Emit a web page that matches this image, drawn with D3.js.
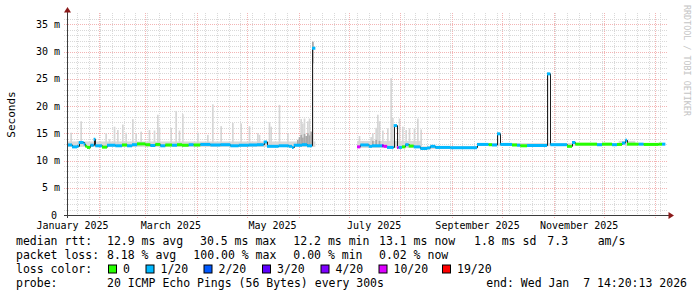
<!DOCTYPE html>
<html>
<head>
<meta charset="utf-8">
<script src="https://cdn.jsdelivr.net/npm/d3@7"></script>
<style>
  body { margin: 0; background: #fff; }
  text { font-family: "DejaVu Sans Mono", monospace; fill: #000; }
</style>
</head>
<body>
<svg id="chart" width="697" height="297"></svg>
<script>
// Median rtt as steps: each value holds from its date to the next one (null = no data)
var medDates = [
  "2025-01-13","2025-01-16","2025-01-19","2025-01-20","2025-01-23","2025-01-24","2025-01-25","2025-01-27",
  "2025-01-29","2025-01-30","2025-02-03","2025-02-06","2025-02-11","2025-02-15","2025-02-18","2025-02-21",
  "2025-02-24","2025-03-01","2025-03-04","2025-03-07","2025-03-10","2025-03-13","2025-03-17","2025-03-20",
  "2025-03-23","2025-03-27","2025-03-30","2025-04-03","2025-04-09","2025-04-15","2025-04-21","2025-04-26",
  "2025-05-02","2025-05-07","2025-05-11","2025-05-13","2025-05-20","2025-05-26","2025-05-28","2025-05-29",
  "2025-06-03","2025-06-06","2025-06-09","2025-06-11",
  "2025-07-06","2025-07-08","2025-07-13","2025-07-15","2025-07-21","2025-07-22","2025-07-24","2025-07-28",
  "2025-07-30","2025-07-31","2025-08-02","2025-08-04","2025-08-06","2025-08-09","2025-08-13","2025-08-17",
  "2025-08-19","2025-08-22","2025-08-31","2025-09-16","2025-09-23","2025-09-25","2025-09-28","2025-09-30",
  "2025-10-07","2025-10-10","2025-10-12","2025-10-16","2025-10-28","2025-10-30","2025-11-09","2025-11-12",
  "2025-11-14","2025-11-27","2025-11-30","2025-12-06","2025-12-09","2025-12-12","2025-12-14","2025-12-15",
  "2025-12-22","2025-12-25","2026-01-03","2026-01-05","2026-01-07"
];
var medValues = [
  12.85,12.5,12.6,13.3,13.0,12.6,12.4,12.8,
  13.9,12.7,12.45,12.8,12.7,12.85,12.7,12.9,
  13.05,12.9,12.75,12.95,12.7,12.85,12.8,12.9,
  12.8,12.9,12.85,12.95,12.85,12.9,12.7,12.8,
  12.85,12.9,13.4,12.6,12.7,12.6,12.4,12.8,
  12.9,12.7,30.6,null,
  12.5,12.85,12.6,12.7,12.7,12.6,12.4,16.4,
  12.4,12.4,12.5,12.9,12.65,12.5,12.2,12.3,
  12.6,12.4,12.35,12.95,12.9,12.85,14.9,12.95,
  12.85,12.8,12.7,12.75,25.9,12.9,12.6,13.3,
  13.0,12.9,13.0,12.9,12.95,13.2,13.7,13.0,
  13.0,12.95,13.0,13.0,null
];
// index into lossColors for each median step
var medLoss = [
  1,1,1,1,1,0,0,1,
  1,1,0,1,1,0,1,1,
  0,0,1,0,1,0,1,0,
  0,1,0,1,1,1,1,1,
  1,1,1,1,1,1,1,1,
  1,1,1,null,
  5,1,1,1,4,5,1,1,
  5,1,0,1,0,1,1,1,
  1,1,1,1,0,1,1,1,
  0,1,0,1,1,1,0,1,
  0,1,0,1,0,1,1,0,
  1,0,0,1,null
];

// base smoke band (steps)
var smokeDates = ["2025-01-13","2025-06-11","2025-07-06","2025-08-14","2025-09-16","2025-12-10","2025-12-20","2026-01-07"];
var smokeLows  = [12.5, null, 12.3, 12.1, 12.7, 12.8, 12.8, null];
var smokeHighs = [13.5, null, 13.6, 12.6, 13.2, 13.6, 13.2, null];

// single-sample smoke spikes
var spikeDates = [
  "2025-01-15","2025-01-21","2025-01-29","2025-02-05","2025-02-07","2025-02-10","2025-02-12","2025-02-15",
  "2025-02-17","2025-02-21","2025-02-23","2025-02-26","2025-03-03","2025-03-06","2025-03-08","2025-03-09",
  "2025-03-16","2025-03-19","2025-03-21","2025-03-23","2025-04-01","2025-04-07","2025-04-10","2025-04-15",
  "2025-04-22","2025-04-27","2025-05-02","2025-05-07","2025-05-08","2025-05-14","2025-05-15","2025-05-20",
  "2025-05-25","2025-06-02","2025-06-03","2025-06-04","2025-06-06","2025-06-07","2025-06-09",
  "2025-07-07","2025-07-09","2025-07-14","2025-07-15","2025-07-17","2025-07-18","2025-07-19","2025-07-21",
  "2025-07-24","2025-07-26","2025-07-27","2025-07-31","2025-08-02","2025-08-04","2025-08-06","2025-08-09",
  "2025-08-11","2025-08-13","2025-09-28","2025-10-28","2025-12-14"
];
var spikeTops = [
  15.1,17.2,14.1,15.0,13.9,16.2,15.6,16.6,
  15.1,17.6,15.0,15.3,15.6,15.5,18.4,16.0,
  16.0,19.1,15.5,18.5,15.1,14.7,20.3,16.3,
  16.9,16.8,16.3,15.0,14.7,17.0,16.2,20.2,
  15.0,17.6,16.8,17.7,17.2,17.7,31.8,
  14.5,13.5,14.3,15.0,16.0,18.4,17.2,15.5,
  15.9,25.1,17.8,17.7,16.2,15.6,15.9,15.9,
  17.7,15.7,15.1,26.1,14.0
];

// denser (darker) smoke
var denseDates = ["2025-05-31","2025-06-01","2025-06-02","2025-06-03","2025-06-04","2025-06-05","2025-06-06","2025-06-07","2025-06-08","2025-06-09","2025-07-15","2025-07-17","2025-07-19"];
var denseLows  = [12.9, 12.9, 13.0, 12.9, 13.0, 12.9, 12.8, 12.9, 12.9, 27.8, 12.8, 12.8, 12.8];
var denseTops  = [13.8, 14.3, 14.7, 14.2, 14.9, 14.5, 15.0, 14.6, 15.3, 31.8, 13.6, 13.8, 13.6];

var yTicks = [0, 5, 10, 15, 20, 25, 30, 35];
var monthLabelDates = ["2025-01-16","2025-03-16","2025-05-16","2025-07-16","2025-09-16","2025-11-16"];

var rttNames  = ["avg", "max", "min", "now"];
var rttValues = [12.9, 30.5, 12.2, 13.1];
var rttSd = 1.8;
var rttAms = 7.3;
var lossValues = [8.18, 100.00, 0.00, 0.02];
var lossLabels = ["0", "1/20", "2/20", "3/20", "4/20", "10/20", "19/20"];
var lossColors = ["#26ff00", "#00b8ff", "#0059ff", "#5e00ff", "#7e00ff", "#dd00ff", "#ff0000"];
var probeText = "20 ICMP Echo Pings (56 Bytes) every 300s";
var endText = "end: Wed Jan\u00a0\u00a07 14:20:13 2026";

// ---- layout ----
var svg = d3.select("#chart");
var parse = d3.utcParse("%Y-%m-%d");
var plotLeft = 67, plotRight = 667, plotTop = 15, plotBottom = 215;

var x = d3.scaleUtc()
          .domain([parse("2025-01-13"), parse("2026-01-08")])
          .range([plotLeft, plotRight]);
var y = d3.scaleLinear()
          .domain([0, 36.7])
          .range([plotBottom, plotTop]);

svg.append("rect").attr("width", 697).attr("height", 297).attr("fill", "#fff");

// grid
var grid = svg.append("g").attr("shape-rendering", "crispEdges");
var minorY = d3.range(1, 37).filter(function(v) { return v % 5 !== 0; });
var majorY = yTicks.filter(function(v) { return v > 0; });
var months = d3.utcMonth.range(x.domain()[0], x.domain()[1]);
var weeks = d3.utcSunday.range(x.domain()[0], x.domain()[1]);
var minorCol = "#d9d9d9", majorCol = "#f3b4b4";

grid.selectAll(".hminor").data(minorY).enter().append("line")
    .attr("x1", plotLeft - 3).attr("x2", plotRight + 1)
    .attr("y1", function(d) { return Math.round(y(d)) + 0.5; })
    .attr("y2", function(d) { return Math.round(y(d)) + 0.5; })
    .attr("stroke", minorCol).attr("stroke-dasharray", "1,1");
grid.selectAll(".vminor").data(weeks).enter().append("line")
    .attr("x1", function(d) { return Math.round(x(d)) + 0.5; })
    .attr("x2", function(d) { return Math.round(x(d)) + 0.5; })
    .attr("y1", plotTop - 2).attr("y2", plotBottom + 2)
    .attr("stroke", minorCol).attr("stroke-dasharray", "1,1");
grid.selectAll(".hmajor").data(majorY).enter().append("line")
    .attr("x1", plotLeft - 3).attr("x2", plotRight + 1)
    .attr("y1", function(d) { return Math.round(y(d)) + 0.5; })
    .attr("y2", function(d) { return Math.round(y(d)) + 0.5; })
    .attr("stroke", majorCol).attr("stroke-dasharray", "1,1");
grid.selectAll(".vmajor").data(months).enter().append("line")
    .attr("x1", function(d) { return Math.round(x(d)) + 0.5; })
    .attr("x2", function(d) { return Math.round(x(d)) + 0.5; })
    .attr("y1", plotTop - 2).attr("y2", plotBottom + 3)
    .attr("stroke", majorCol).attr("stroke-dasharray", "1,1");

// smoke
var oneDay = 864e5;
var smoke = smokeDates.map(function(d, i) { return {t: parse(d), lo: smokeLows[i], hi: smokeHighs[i]}; });
svg.append("g").selectAll("rect")
   .data(smoke.slice(0, -1).map(function(d, i) { return {a: d, b: smoke[i + 1]}; })
              .filter(function(s) { return s.a.hi !== null; }))
   .enter().append("rect")
     .attr("x", function(s) { return x(s.a.t); })
     .attr("width", function(s) { return x(s.b.t) - x(s.a.t); })
     .attr("y", function(s) { return y(s.a.hi); })
     .attr("height", function(s) { return y(s.a.lo) - y(s.a.hi); })
     .attr("fill", "#dadada");

svg.append("g").selectAll("rect")
   .data(spikeDates.map(function(d, i) { return {t: parse(d), v: spikeTops[i]}; }))
   .enter().append("rect")
     .attr("x", function(d) { return x(d.t); })
     .attr("width", function(d) { return x(new Date(+d.t + oneDay)) - x(d.t); })
     .attr("y", function(d) { return y(d.v); })
     .attr("height", function(d) { return y(12.6) - y(d.v); })
     .attr("fill", "#d6d6d6");

svg.append("g").selectAll("rect")
   .data(denseDates.map(function(d, i) { return {t: parse(d), lo: denseLows[i], hi: denseTops[i]}; }))
   .enter().append("rect")
     .attr("x", function(d) { return x(d.t); })
     .attr("width", function(d) { return x(new Date(+d.t + oneDay)) - x(d.t); })
     .attr("y", function(d) { return y(d.hi); })
     .attr("height", function(d) { return y(d.lo) - y(d.hi); })
     .attr("fill", "#a9a9a9");

// median: thin dark step line, then loss-coloured steps on top
var med = medDates.map(function(d, i) { return {t: parse(d), v: medValues[i], c: medLoss[i]}; });
svg.append("path")
   .datum(med)
   .attr("fill", "none")
   .attr("stroke", "#202020")
   .attr("stroke-width", 1)
   .attr("d", d3.line()
                .defined(function(d) { return d.v !== null; })
                .curve(d3.curveStepAfter)
                .x(function(d) { return Math.round(x(d.t)) + 0.5; })
                .y(function(d) { return y(d.v); }));

var steps = med.slice(0, -1).map(function(d, i) { return {a: d, b: med[i + 1]}; })
               .filter(function(s) { return s.a.v !== null; });
svg.append("g").selectAll("path")
   .data(steps)
   .enter().append("path")
     .attr("fill", "none")
     .attr("stroke", function(s) { return lossColors[s.a.c]; })
     .attr("stroke-width", 3)
     .attr("d", function(s) {
       return "M" + x(s.a.t) + "," + y(s.a.v) + "H" + x(s.b.t);
     });

// axes
var axisCol = "#3c3c3c";
svg.append("line").attr("x1", plotLeft + 0.5).attr("x2", plotLeft + 0.5).attr("y1", plotBottom + 3).attr("y2", 11)
   .attr("stroke", axisCol);
svg.append("line").attr("x1", plotLeft - 3).attr("x2", plotRight + 2).attr("y1", plotBottom + 0.5).attr("y2", plotBottom + 0.5)
   .attr("stroke", axisCol);
svg.append("path").attr("d", "M64,12.5L71,12.5L67.5,7Z").attr("fill", "#8b1a1a");
svg.append("path").attr("d", "M668.5,212L668.5,219L674,215.5Z").attr("fill", "#8b1a1a");

var yAxis = svg.append("g")
   .attr("transform", "translate(" + plotLeft + ",0)")
   .call(d3.axisLeft(y).tickValues(yTicks).tickSize(0).tickPadding(7)
           .tickFormat(function(d) { return d === 0 ? "0" : d + " m"; }));
yAxis.select(".domain").remove();
yAxis.selectAll("text").attr("font-size", 10).attr("font-family", "DejaVu Sans Mono")
     .attr("dx", function(d) { return d === 0 ? -3 : 0; });

var xAxis = svg.append("g")
   .attr("transform", "translate(0," + plotBottom + ")")
   .call(d3.axisBottom(x).tickValues(monthLabelDates.map(parse)).tickSize(0).tickPadding(7)
           .tickFormat(d3.utcFormat("%B %Y")));
xAxis.select(".domain").remove();
xAxis.selectAll("text").attr("font-size", 10).attr("font-family", "DejaVu Sans Mono");

svg.append("text")
   .attr("transform", "translate(14.5,114.5) rotate(-90)")
   .attr("text-anchor", "middle")
   .attr("font-size", 11)
   .text("Seconds");

svg.append("text")
   .attr("transform", "translate(684,5) rotate(90)")
   .attr("font-size", 8.4)
   .style("fill", "#c4c4c4")
   .text("RRDTOOL / TOBI OETIKER");

// legend
var lg = svg.append("g").attr("font-size", 11.5);
var rowY = [244.5, 258.7, 272.7, 287];
var statX = [107, 200, 293.3, 379];
var lossStatX = [107, 193.3, 293.3, 379];

lg.append("text").attr("x", 16).attr("y", rowY[0]).text("median rtt:");
rttValues.forEach(function(v, i) {
  lg.append("text").attr("x", statX[i]).attr("y", rowY[0]).text(v.toFixed(1) + " ms " + rttNames[i]);
});
lg.append("text").attr("x", 474).attr("y", rowY[0]).text(rttSd.toFixed(1) + " ms sd");
lg.append("text").attr("x", 547.3).attr("y", rowY[0]).text(rttAms.toFixed(1));
lg.append("text").attr("x", 597.7).attr("y", rowY[0]).text("am/s");

lg.append("text").attr("x", 16).attr("y", rowY[1]).text("packet loss:");
lossValues.forEach(function(v, i) {
  lg.append("text").attr("x", lossStatX[i]).attr("y", rowY[1]).text(v.toFixed(2) + " % " + rttNames[i]);
});

var boxX = [108.5, 146, 204, 262.5, 321, 379, 442.5];
lg.append("text").attr("x", 16).attr("y", rowY[2]).text("loss color:");
lossLabels.forEach(function(l, i) {
  lg.append("rect")
    .attr("x", boxX[i]).attr("y", 265).attr("width", 8).attr("height", 8)
    .attr("fill", lossColors[i]).attr("stroke", "#000").attr("stroke-width", 1);
  lg.append("text").attr("x", boxX[i] + 14.5).attr("y", rowY[2]).text(l);
});

lg.append("text").attr("x", 16).attr("y", rowY[3]).text("probe:");
lg.append("text").attr("x", 107).attr("y", rowY[3]).text(probeText);
lg.append("text").attr("x", 687).attr("y", rowY[3]).attr("text-anchor", "end").text(endText);
</script>
</body>
</html>
